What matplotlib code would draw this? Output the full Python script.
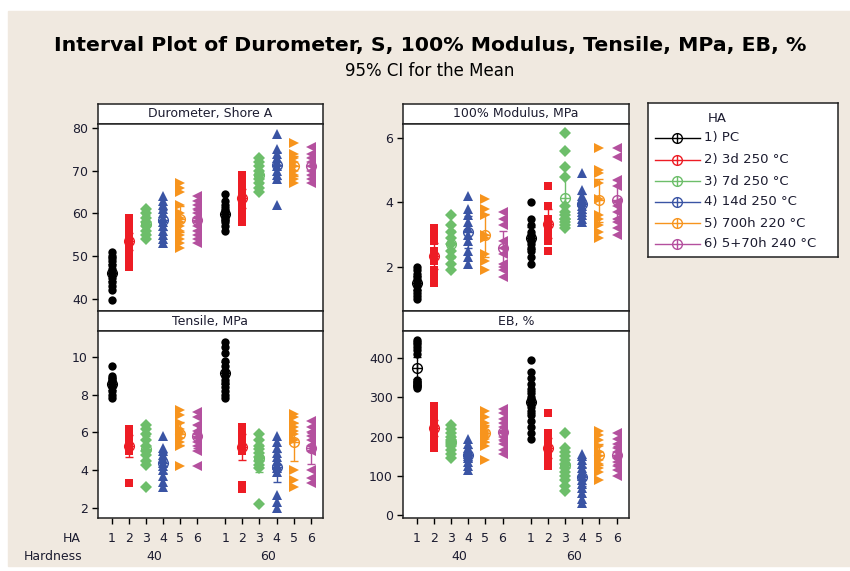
import matplotlib.pyplot as plt
from matplotlib.patches import Rectangle
import numpy as np

W, H = 850, 571

ha_labels = ['1) PC', '2) 3d 250 °C', '3) 7d 250 °C', '4) 14d 250 °C',
             '5) 700h 220 °C', '6) 5+70h 240 °C']
hardness_labels = ['40', '60']
colors = ['#000000', '#ED1C24', '#6DBE6A', '#3A54A4', '#F7941D', '#B4509E']
markers = ['o', 's', 'D', '^', '>', '<']
msizes = [6, 5.5, 6.5, 7.5, 7.5, 7.5]

# Durometer, Shore A  (one list per HA level)
durometer_40 = [
    [39.8, 42, 43, 44, 45, 46, 46, 47, 48, 49, 49.5, 50, 51],
    [47.5, 48.5, 50, 51, 52, 53, 53.5, 54, 54.5, 55, 56, 57, 58, 59],
    [54, 55, 56, 57, 58, 59, 60, 61],
    [53, 54, 55, 56, 57, 58, 59, 60, 61, 62, 63, 64],
    [52, 53, 54, 55, 56, 57, 58, 59, 60, 62, 65, 66, 67],
    [53, 54, 55, 56, 57, 58, 59, 60, 61, 62, 63, 64],
]
durometer_60 = [
    [56, 57, 58, 58.5, 59, 59.5, 60, 60.5, 61, 62, 63, 64.5],
    [58, 59, 60, 61, 62, 63, 64, 65, 66, 67, 68, 69],
    [65, 66, 67, 68, 69, 70, 71, 72, 73],
    [62, 68, 69, 70, 71, 72, 73, 74, 75, 78.5],
    [67, 68, 69, 70, 71, 72, 73, 74, 76.5],
    [67, 68, 69, 70, 71, 72, 73, 74, 75.5],
]

# 100% Modulus, MPa
modulus_40 = [
    [1.0, 1.1, 1.2, 1.3, 1.4, 1.5, 1.6, 1.7, 1.8, 1.9, 2.0],
    [1.5, 1.7, 1.9, 2.2, 2.3, 2.4, 2.5, 2.8, 3.0, 3.2],
    [1.9, 2.1, 2.3, 2.5, 2.7, 2.9, 3.1, 3.3, 3.6],
    [2.1, 2.3, 2.5, 2.8, 3.0, 3.2, 3.4, 3.6, 3.8, 4.2],
    [1.9, 2.2, 2.4, 2.9, 3.0, 3.6, 3.8, 4.1],
    [1.7, 1.9, 2.0, 2.1, 2.4, 2.6, 2.8, 3.3, 3.5, 3.7],
]
modulus_60 = [
    [2.1, 2.3, 2.5, 2.6, 2.7, 2.8, 2.9, 3.0, 3.1, 3.3, 3.5, 4.0],
    [2.5, 2.8, 3.0, 3.2, 3.3, 3.4, 3.5, 3.9, 4.5],
    [3.2, 3.3, 3.4, 3.5, 3.5, 3.6, 3.7, 3.9, 4.8, 5.1, 5.6, 6.15],
    [3.4, 3.5, 3.6, 3.7, 3.8, 3.9, 4.0, 4.1, 4.2, 4.4, 4.9],
    [2.9, 3.1, 3.3, 3.5, 3.6, 4.1, 4.6, 4.9, 5.0, 5.7],
    [3.0, 3.2, 3.4, 3.5, 3.7, 3.9, 4.0, 4.5, 4.7, 5.4, 5.7],
]

# Tensile, MPa
tensile_40 = [
    [7.8, 8.0, 8.2, 8.4, 8.5, 8.6, 8.7, 8.8, 8.9, 9.0, 9.5],
    [3.3, 5.0, 5.1, 5.2, 5.3, 5.4, 5.6, 5.8, 6.0, 6.2],
    [3.1, 4.3, 4.5, 4.8, 5.0, 5.3, 5.6, 5.9, 6.2, 6.4],
    [3.1, 3.4, 3.7, 4.0, 4.2, 4.4, 4.6, 4.8, 5.0, 5.2, 5.8],
    [4.2, 5.3, 5.5, 5.7, 5.9, 6.0, 6.2, 6.5, 6.9, 7.2],
    [4.2, 5.0, 5.3, 5.5, 5.7, 5.9, 6.1, 6.4, 6.8, 7.1],
]
tensile_60 = [
    [7.8, 8.0, 8.2, 8.4, 8.6, 8.8, 9.0, 9.2, 9.5, 9.8, 10.2, 10.5, 10.8],
    [3.0, 3.2, 5.0, 5.3, 5.4, 5.5, 5.6, 5.7, 5.8, 5.9, 6.1, 6.3],
    [2.2, 4.1, 4.3, 4.5, 4.7, 4.9, 5.1, 5.3, 5.6, 5.9],
    [2.0, 2.3, 2.7, 3.9, 4.1, 4.3, 4.5, 4.7, 4.9, 5.2, 5.5, 5.8],
    [3.1, 3.5, 4.0, 5.6, 5.9, 6.1, 6.3, 6.5, 6.8, 7.0],
    [3.3, 3.6, 4.0, 5.0, 5.3, 5.6, 5.8, 6.0, 6.3, 6.6],
]

# EB, %
eb_40 = [
    [325, 328, 330, 332, 335, 338, 340, 345, 410, 420, 428, 435, 440, 445],
    [170, 180, 190, 200, 210, 215, 220, 225, 230, 240, 255, 270, 278],
    [145, 155, 165, 175, 180, 185, 190, 200, 210, 220, 230],
    [115, 125, 135, 145, 150, 155, 160, 165, 170, 180, 195],
    [140, 175, 185, 195, 200, 205, 210, 215, 225, 235, 250, 265],
    [155, 165, 180, 190, 200, 210, 215, 225, 235, 245, 260, 270],
]
eb_60 = [
    [195, 210, 225, 240, 255, 265, 275, 285, 290, 295, 300, 310, 320, 335,
     350, 365, 395],
    [125, 130, 135, 140, 150, 160, 170, 180, 190, 200, 210, 260],
    [60, 75, 90, 100, 110, 120, 130, 140, 150, 160, 170, 210],
    [30, 40, 55, 70, 80, 90, 100, 110, 120, 130, 140, 150, 155],
    [90, 110, 120, 130, 140, 150, 160, 175, 190, 205, 215],
    [100, 115, 125, 135, 145, 150, 160, 170, 180, 195, 210],
]

# two-sided 95% t quantiles by degrees of freedom
t975 = {5: 2.571, 6: 2.447, 7: 2.365, 8: 2.306, 9: 2.262, 10: 2.228,
        11: 2.201, 12: 2.179, 13: 2.160, 14: 2.145, 15: 2.131, 16: 2.120,
        17: 2.110, 18: 2.101, 19: 2.093, 20: 2.086}

TXT = '#1c1c30'
GAP = 6.65   # offset of the second hardness group on the x scale
BEIGE = '#F0E9E0'

plt.rcParams['font.family'] = ['DejaVu Sans']


def px(x0, y0, x1, y1):
    return [x0 / W, 1 - y1 / H, (x1 - x0) / W, (y1 - y0) / H]


def mean_ci(vals):
    v = np.asarray(vals, float)
    n = len(v)
    return v.mean(), t975[n - 1] * v.std(ddof=1) / np.sqrt(n)


fig = plt.figure(figsize=(W / 100, H / 100), dpi=100)
fig.patch.set_facecolor('white')
fig.patches.append(Rectangle((8 / W, 1 - 566 / H), 1, 555 / H,
                             transform=fig.transFigure, color=BEIGE, zorder=-10))

fig.text(430 / W, 1 - 46 / H,
         'Interval Plot of Durometer, S, 100% Modulus, Tensile, MPa, EB, %',
         ha='center', va='center', fontsize=14.7, fontweight='bold',
         color='black')
fig.text(430 / W, 1 - 71 / H, '95% CI for the Mean', ha='center', va='center',
         fontsize=12, color='black')


def strip(x0, x1, y0, y1, title):
    s = fig.add_axes(px(x0, y0, x1, y1))
    s.set_facecolor('white')
    s.set_xticks([])
    s.set_yticks([])
    for sp in s.spines.values():
        sp.set_linewidth(1.1)
        sp.set_color('#222222')
    s.text(0.5, 0.5, title, ha='center', va='center', fontsize=9,
           color=TXT, transform=s.transAxes)


def panel(x0, x1, y0, y1, title, d40, d60, ylim, yticks, bottom):
    strip(x0, x1, y0 - 20, y0, title)
    ax = fig.add_axes(px(x0, y0, x1, y1))
    ax.set_facecolor('white')
    for g, data in enumerate([d40, d60]):
        for i, vals in enumerate(data):
            x = i + g * GAP
            c = colors[i]
            ax.plot([x] * len(vals), vals, ls='none', marker=markers[i],
                    ms=msizes[i], color=c, mew=0, zorder=2)
            m, h = mean_ci(vals)
            ax.errorbar(x, m, yerr=h, color=c, lw=1, capsize=3, capthick=1,
                        zorder=3)
            # mean symbol: open circle with a cross
            ax.plot(x, m, marker='o', ms=7, mfc='none', mec=c, mew=1,
                    zorder=4)
            ax.plot(x, m, marker='+', ms=7, color=c, mew=1, zorder=5)
    ax.set_xlim(-0.8, 5 + GAP + 0.72)
    ax.set_ylim(*ylim)
    ax.set_yticks(yticks)
    ax.set_yticklabels([str(t) for t in yticks])
    ax.tick_params(axis='y', length=4.3, width=1, pad=3, labelsize=9,
                   labelcolor=TXT, direction='out')
    for sp in ax.spines.values():
        sp.set_linewidth(1.1)
        sp.set_color('#222222')
    xs = [i + g * GAP for g in range(2) for i in range(6)]
    if bottom:
        ax.set_xticks(xs)
        ax.set_xticklabels([str(i + 1) for g in range(2) for i in range(6)])
        ax.tick_params(axis='x', length=4.3, width=1, pad=6, labelsize=9,
                       labelcolor=TXT, direction='out')
        for g, lab in enumerate(hardness_labels):
            ax.annotate(lab, xy=(2.5 + g * GAP, 0),
                        xycoords=('data', 'axes fraction'),
                        xytext=(0, -39), textcoords='offset pixels',
                        ha='center', va='center', fontsize=9, color=TXT)
    else:
        ax.set_xticks([])
    return ax


panel(98, 323, 124, 311, 'Durometer, Shore A', durometer_40, durometer_60,
      (37.2, 80.9), [40, 50, 60, 70, 80], False)
panel(403, 629, 124, 311, '100% Modulus, MPa', modulus_40, modulus_60,
      (0.64, 6.43), [2, 4, 6], False)
panel(98, 323, 331, 518, 'Tensile, MPa', tensile_40, tensile_60,
      (1.47, 11.37), [2, 4, 6, 8, 10], True)
panel(403, 629, 331, 518, 'EB, %', eb_40, eb_60,
      (-7.6, 469), [0, 100, 200, 300, 400], True)

fig.text(81 / W, 1 - 538 / H, 'HA', ha='right', va='center', fontsize=9,
         color=TXT)
fig.text(82 / W, 1 - 557 / H, 'Hardness', ha='right', va='center', fontsize=9,
         color=TXT)

# legend box
lg = fig.add_axes(px(648, 103, 838, 257))
lg.set_facecolor('white')
lg.set_xlim(0, 190)
lg.set_ylim(154, 0)
lg.set_xticks([])
lg.set_yticks([])
for sp in lg.spines.values():
    sp.set_linewidth(1.1)
    sp.set_color('#222222')
lg.text(60, 15, 'HA', ha='left', va='center', fontsize=9.5, color=TXT)
rows = [35, 57, 78, 99, 120, 141]
for i, lab in enumerate(ha_labels):
    y = rows[i]
    c = colors[i]
    lg.plot([7, 52], [y, y], color=c, lw=1)
    lg.plot(29, y, marker='o', ms=7, mfc='white', mec=c, mew=1)
    lg.plot(29, y, marker='+', ms=7, color=c, mew=1)
    lg.text(56, y, lab, ha='left', va='center', fontsize=9.5, color=TXT)

fig.savefig('out.png', dpi=100)
